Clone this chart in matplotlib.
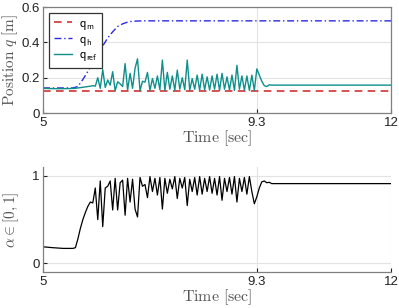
import matplotlib
matplotlib.use('Agg')
import matplotlib.pyplot as plt
import numpy as np

plt.rcParams['mathtext.fontset'] = 'cm'
plt.rcParams['font.family'] = ['Liberation Sans', 'DejaVu Sans']

# time samples shared by q_ref and alpha
t_pre = [5.0, 5.2, 5.4, 5.6, 5.65, 5.7, 5.75, 5.8, 5.85, 5.9, 5.95]
t_mid = list(np.round(np.arange(6.0, 9.601, 0.05), 2))
t = np.array(t_pre + t_mid + [12.0])

alpha = [0.19, 0.18, 0.172, 0.172, 0.18, 0.28, 0.40, 0.50, 0.58, 0.65, 0.70,
         # 6.00 - 6.95
         0.69, 0.86, 0.50, 0.94, 0.42, 0.86, 0.88, 0.94, 0.61, 0.97,
         0.61, 0.92, 0.95, 0.55, 0.97, 0.70, 0.96, 0.62, 0.53, 0.98,
         # 7.00 - 7.95
         0.88, 0.90, 0.75, 0.99, 0.82, 0.97, 0.78, 0.98, 0.62, 0.97,
         0.80, 0.96, 0.85, 0.99, 0.74, 0.97, 0.86, 0.98, 0.66, 0.96,
         # 8.00 - 8.95
         0.82, 0.98, 0.78, 0.99, 0.79, 0.97, 0.82, 0.99, 0.80, 0.97,
         0.78, 0.99, 0.72, 0.97, 0.82, 0.98, 0.79, 0.99, 0.70, 0.97,
         # 9.00 - 9.60
         0.82, 0.98, 0.79, 0.99, 0.82, 0.68, 0.76, 0.86, 0.93, 0.94,
         0.92, 0.925, 0.91,
         0.91]

q_ref = [0.140, 0.138, 0.138, 0.139, 0.140, 0.142, 0.144, 0.146, 0.148, 0.150, 0.152,
         # 6.00 - 6.95
         0.155, 0.152, 0.200, 0.140, 0.246, 0.145, 0.187, 0.158, 0.234, 0.126,
         0.177, 0.165, 0.150, 0.280, 0.130, 0.225, 0.140, 0.253, 0.307, 0.126,
         # 7.00 - 7.95
         0.180, 0.175, 0.230, 0.128, 0.195, 0.140, 0.210, 0.132, 0.300, 0.128,
         0.230, 0.135, 0.210, 0.130, 0.243, 0.135, 0.200, 0.132, 0.300, 0.128,
         # 8.00 - 8.95
         0.195, 0.135, 0.215, 0.130, 0.220, 0.132, 0.205, 0.130, 0.210, 0.135,
         0.220, 0.128, 0.225, 0.135, 0.205, 0.130, 0.215, 0.128, 0.270, 0.135,
         # 9.00 - 9.60
         0.210, 0.130, 0.210, 0.128, 0.215, 0.128, 0.250, 0.215, 0.180, 0.155,
         0.150, 0.160, 0.158,
         0.158]

t_h = [5.0, 5.6, 5.7, 5.8, 5.9, 6.0, 6.1, 6.2, 6.3, 6.4, 6.5, 6.6, 6.7, 6.8, 7.0, 12.0]
q_h = [0.142, 0.142, 0.15, 0.19, 0.235, 0.285, 0.335, 0.38, 0.425, 0.46, 0.49,
       0.505, 0.515, 0.52, 0.522, 0.522]

t_m = [5.0, 12.0]
q_m = [0.122, 0.122]

xticks = [5, 9.3, 12]
xticklabels = ['5', '9.3', '12']

lbl_col = '#555555'
spine_col = '#808080'

fig = plt.figure(figsize=(3.99, 3.08), dpi=100)
ax1 = fig.add_axes([0.108, 0.633, 0.872, 0.344])
ax2 = fig.add_axes([0.108, 0.116, 0.872, 0.342])

ax1.plot(t_m, q_m, color='#cc2222', ls=(0, (5, 3.5)), lw=1.1, label=r'$\mathsf{q}_{\mathsf{m}}$')
ax1.plot(t_h, q_h, color='#2a2ae0', ls=(0, (5, 2, 1, 2)), lw=1.0, label=r'$\mathsf{q}_{\mathsf{h}}$')
ax1.plot(t, q_ref, color='#0f8f8a', lw=1.0, label=r'$\mathsf{q}_{\mathsf{ref}}$')

ax2.plot(t, alpha, color='black', lw=0.9)

ax1.set_ylim(0, 0.6)
ax1.set_yticks([0, 0.2, 0.4, 0.6])
ax1.set_yticklabels(['0', '0.2', '0.4', '0.6'])
ax1.set_ylabel(r'$\mathrm{Position}\ q\ [\mathrm{m}]$', fontsize=11, color=lbl_col, labelpad=1)

ax2.set_ylim(-0.1, 1.1)
ax2.set_yticks([0, 1])
ax2.set_yticklabels(['0', '1'])
ax2.set_ylabel(r'$\alpha \in [0,1]$', fontsize=11, color=lbl_col, labelpad=8)
ax2.spines['top'].set_visible(False)
ax2.spines['right'].set_visible(False)

for ax in (ax1, ax2):
    ax.set_xlim(5, 12)
    ax.set_xticks(xticks)
    ax.set_xticklabels(xticklabels)
    ax.set_xlabel(r'$\mathrm{Time}\ [\mathrm{sec}]$', fontsize=11.5, color=lbl_col, labelpad=0)
    ax.grid(True, color='#e3e3e3', lw=0.8)
    ax.set_axisbelow(True)
    ax.tick_params(direction='in', length=3, labelsize=9.5, colors='#222222',
                   width=0.8, pad=2.5)
    for s in ax.spines.values():
        s.set_color(spine_col)
        s.set_linewidth(0.9)

leg = ax1.legend(loc='upper left', fontsize=9, frameon=True, fancybox=False,
                 edgecolor='#333333', framealpha=1, handlelength=1.5,
                 handletextpad=0.5, labelspacing=0.15, borderpad=0.35,
                 borderaxespad=0.5)
leg.get_frame().set_linewidth(0.9)

fig.savefig('out.png', dpi=100)
